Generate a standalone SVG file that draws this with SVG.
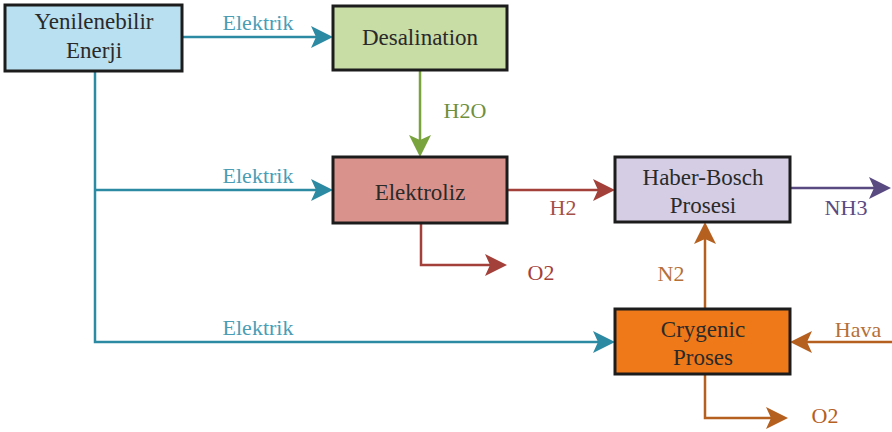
<svg xmlns="http://www.w3.org/2000/svg" width="892" height="432" viewBox="0 0 892 432">
<defs>
<style>
.box{stroke:#1c1c1c;stroke-width:3}
.lbl{font-family:"Liberation Serif","Times New Roman",serif;font-size:23px;fill:#2a2a2a;text-anchor:middle}
.el{font-family:"Liberation Serif","Times New Roman",serif;font-size:22px;text-anchor:middle}
.c{fill:none;stroke-width:2.5}
.teal{stroke:#2d8aa3}
.green{stroke:#79a33c}
.red{stroke:#a4403a}
.purple{stroke:#5a4a82}
.orange{stroke:#b5601f}
</style>
<marker id="aT" markerUnits="userSpaceOnUse" markerWidth="24" markerHeight="24" refX="12" refY="11" orient="auto"><path d="M0,0 L22,11 L0,22 L5,11 z" fill="#2d8aa3"/></marker>
<marker id="aG" markerUnits="userSpaceOnUse" markerWidth="24" markerHeight="24" refX="12" refY="11" orient="auto"><path d="M0,0 L22,11 L0,22 L5,11 z" fill="#79a33c"/></marker>
<marker id="aR" markerUnits="userSpaceOnUse" markerWidth="24" markerHeight="24" refX="12" refY="11" orient="auto"><path d="M0,0 L22,11 L0,22 L5,11 z" fill="#a4403a"/></marker>
<marker id="aP" markerUnits="userSpaceOnUse" markerWidth="24" markerHeight="24" refX="12" refY="11" orient="auto"><path d="M0,0 L22,11 L0,22 L5,11 z" fill="#5a4a82"/></marker>
<marker id="aO" markerUnits="userSpaceOnUse" markerWidth="24" markerHeight="24" refX="12" refY="11" orient="auto"><path d="M0,0 L22,11 L0,22 L5,11 z" fill="#b5601f"/></marker>
</defs>
<rect width="892" height="432" fill="#ffffff"/>
<g id="connectors">
<path class="c teal" d="M182,37 H323" marker-end="url(#aT)"/>
<path class="c teal" d="M95,71 V342 H605" marker-end="url(#aT)"/>
<path class="c teal" d="M95,190 H323" marker-end="url(#aT)"/>
<path class="c green" d="M420,70 V147" marker-end="url(#aG)"/>
<path class="c red" d="M507,190 H605" marker-end="url(#aR)"/>
<path class="c red" d="M421,223 V265 H497" marker-end="url(#aR)"/>
<path class="c purple" d="M790,188 H881" marker-end="url(#aP)"/>
<path class="c orange" d="M705,309 V232" marker-end="url(#aO)"/>
<path class="c orange" d="M892,342 H800" marker-end="url(#aO)"/>
<path class="c orange" d="M705,374 V418 H778" marker-end="url(#aO)"/>
<text class="el" x="258" y="30" fill="#4a9db5">Elektrik</text>
<text class="el" x="258" y="183" fill="#4a9db5">Elektrik</text>
<text class="el" x="258" y="335" fill="#4a9db5">Elektrik</text>
<text class="el" x="465" y="118" fill="#6f8f3c">H2O</text>
<text class="el" x="563" y="215" fill="#a4504a">H2</text>
<text class="el" x="541" y="280" fill="#a4403a">O2</text>
<text class="el" x="846" y="215" fill="#5a4a82">NH3</text>
<text class="el" x="671" y="281" fill="#b5703a">N2</text>
<text class="el" x="858" y="337" fill="#b5703a">Hava</text>
<text class="el" x="825" y="423" fill="#b5601f">O2</text>
</g>
<g id="yenilenebilir">
<rect class="box" x="5" y="5" width="177" height="66" fill="#b9e0f0"/>
<text class="lbl" x="94" y="29">Yenilenebilir</text>
<text class="lbl" x="94" y="58">Enerji</text>
</g>
<g id="desalination">
<rect class="box" x="333" y="6" width="174" height="64" fill="#c8dca6"/>
<text class="lbl" x="420" y="45">Desalination</text>
</g>
<g id="elektroliz">
<rect class="box" x="333" y="157" width="174" height="66" fill="#da938c"/>
<text class="lbl" x="420" y="200">Elektroliz</text>
</g>
<g id="haber-bosch">
<rect class="box" x="615" y="157" width="175" height="65" fill="#d4cde4"/>
<text class="lbl" x="703" y="185">Haber-Bosch</text>
<text class="lbl" x="703" y="213">Prosesi</text>
</g>
<g id="crygenic">
<rect class="box" x="615" y="309" width="175" height="65" fill="#ef7818"/>
<text class="lbl" x="703" y="337">Crygenic</text>
<text class="lbl" x="703" y="365">Proses</text>
</g>
</svg>
